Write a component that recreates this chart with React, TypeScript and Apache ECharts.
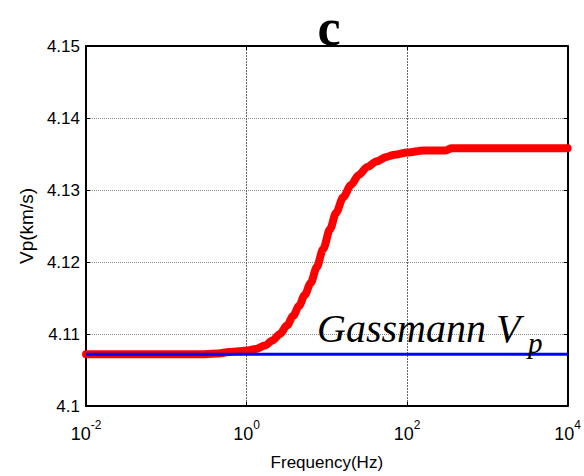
import React, { useEffect, useRef } from "react";
import * as echarts from "echarts";

const freqHz = [0.01, 0.1, 0.3, 0.45, 0.6, 0.8, 1.0, 1.3, 1.7, 2.1, 2.6, 3.2, 3.8, 4.5, 5.3, 6.3, 7.5, 9, 11, 13, 16, 20, 25, 32, 42, 55, 70, 100, 160, 300, 360, 500, 10000];
const vpModel = [4.1072, 4.1072, 4.1072, 4.1073, 4.1075, 4.1076, 4.1077, 4.1079, 4.1084, 4.1091, 4.11, 4.1112, 4.1125, 4.1139, 4.1154, 4.1171, 4.1193, 4.1218, 4.1246, 4.1268, 4.129, 4.1307, 4.1321, 4.1332, 4.134, 4.1346, 4.1349, 4.1352, 4.1355, 4.1355, 4.1358, 4.1358, 4.1358];
const gassmannFreq = [0.01, 10000];
const gassmannVp = [4.1072, 4.1072];
const yTicks = [4.1, 4.11, 4.12, 4.13, 4.14, 4.15];

const sans = "Liberation Sans";
const serif = "Liberation Serif";

export default function App() {
  const ref = useRef<HTMLDivElement>(null);
  useEffect(() => {
    if (!ref.current) return;
    const chart = echarts.init(ref.current, null, { renderer: "svg" });
    const fmtY = (v: number) => {
      const s = v.toFixed(2);
      return s === "4.10" ? "4.1" : s;
    };
    const logAxisCommon = {
      type: "log" as const,
      logBase: 100,
      min: 0.01,
      max: 10000,
    };
    chart.setOption({
      animation: false,
      grid: { left: 86, right: 12, top: 46, bottom: 69, containLabel: false },
      xAxis: [
        {
          ...logAxisCommon,
          position: "bottom",
          name: "Frequency(Hz)",
          nameLocation: "middle",
          nameGap: 48,
          nameTextStyle: { fontFamily: sans, fontSize: 17, color: "#000" },
          axisLine: { show: true, lineStyle: { color: "#000", width: 2 } },
          axisTick: { show: true, inside: true, length: 4, lineStyle: { color: "#000" } },
          minorTick: { show: false },
          splitLine: { show: true, lineStyle: { color: "#666", type: [2, 1], width: 1 } },
          axisLabel: {
            margin: 13,
            formatter: (v: number) => `{b|10}{s|${Math.round(Math.log10(v))}}`,
            rich: {
              b: { fontFamily: sans, fontSize: 18, color: "#000", lineHeight: 30 },
              s: { fontFamily: sans, fontSize: 12, color: "#000", lineHeight: 10, verticalAlign: "top" },
            },
          },
        },
        {
          ...logAxisCommon,
          position: "top",
          axisLine: { show: true, lineStyle: { color: "#000", width: 2 } },
          axisTick: { show: true, inside: true, length: 4, lineStyle: { color: "#000" } },
          axisLabel: { show: false },
          splitLine: { show: false },
        },
      ],
      yAxis: [
        {
          type: "value",
          min: 4.1,
          max: 4.15,
          interval: 0.01,
          position: "left",
          name: "Vp(km/s)",
          nameLocation: "middle",
          nameGap: 48,
          nameTextStyle: { fontFamily: sans, fontSize: 19, color: "#000" },
          axisLine: { show: true, lineStyle: { color: "#000", width: 2 } },
          axisTick: { show: true, inside: true, length: 4, lineStyle: { color: "#000" } },
          splitLine: { show: true, lineStyle: { color: "#888", type: "dotted", width: 1 } },
          axisLabel: {
            margin: 6,
            fontFamily: sans,
            fontSize: 17,
            color: "#000",
            formatter: (v: number) => fmtY(v),
            customValues: yTicks,
          },
        },
        {
          type: "value",
          min: 4.1,
          max: 4.15,
          interval: 0.01,
          position: "right",
          axisLine: { show: true, lineStyle: { color: "#000", width: 2 } },
          axisTick: { show: true, inside: true, length: 4, lineStyle: { color: "#000" } },
          axisLabel: { show: false },
          splitLine: { show: false },
        },
      ],
      series: [
        {
          type: "line",
          data: freqHz.map((f, i) => [f, vpModel[i]]),
          symbol: "none",
          smooth: 0.3,
          smoothMonotone: "x",
          lineStyle: { color: "#ff0000", width: 8, join: "round", cap: "round" },
          itemStyle: { color: "#ff0000" },
          z: 2,
        },
        {
          type: "line",
          data: gassmannFreq.map((f, i) => [f, gassmannVp[i]]),
          symbol: "none",
          lineStyle: { color: "#0000ff", width: 3 },
          itemStyle: { color: "#0000ff" },
          z: 3,
        },
      ],
      graphic: [
        {
          type: "text",
          x: 329,
          y: 27,
          z: 10,
          style: {
            text: "c",
            fontFamily: serif,
            fontSize: 52,
            fontWeight: "bold",
            fill: "#000",
            align: "center",
            verticalAlign: "middle",
            textAlign: "center",
            textVerticalAlign: "middle",
          },
        },
        {
          type: "text",
          x: 317,
          y: 328.5,
          z: 10,
          style: {
            text: "Gassmann V",
            fontFamily: serif,
            fontSize: 40,
            fontStyle: "italic",
            fill: "#000",
            align: "left",
            verticalAlign: "middle",
            textAlign: "left",
            textVerticalAlign: "middle",
          },
        },
        {
          type: "text",
          x: 528,
          y: 343,
          z: 10,
          style: {
            text: "p",
            fontFamily: serif,
            fontSize: 29,
            fontStyle: "italic",
            fill: "#000",
            align: "left",
            verticalAlign: "middle",
            textAlign: "left",
            textVerticalAlign: "middle",
          },
        },
      ],
    });
    return () => chart.dispose();
  }, []);
  return (
    <div
      ref={ref}
      style={{ position: "fixed", left: 0, top: 0, width: 584, height: 476, background: "#fff" }}
    />
  );
}
